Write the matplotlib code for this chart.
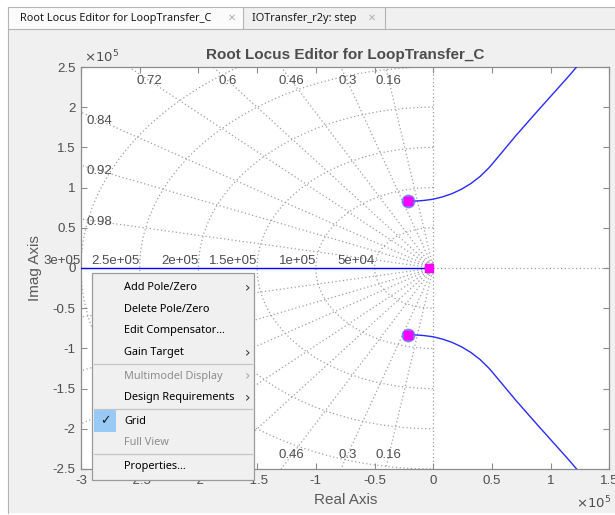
import numpy as np
import matplotlib
matplotlib.use("Agg")
import matplotlib.pyplot as plt
from matplotlib.patches import Rectangle
from matplotlib.lines import Line2D

# ---- data -------------------------------------------------------------
title = "Root Locus Editor for LoopTransfer_C"
tab_titles = ["Root Locus Editor for LoopTransfer_C", "IOTransfer_r2y: step"]

x_ticks = [-3e5, -2.5e5, -2e5, -1.5e5, -1e5, -0.5e5, 0, 0.5e5, 1e5, 1.5e5]
x_ticklabels = ["-3", "-2.5", "-2", "-1.5", "-1", "-0.5", "0", "0.5", "1", "1.5"]
y_ticks = [-2.5e5, -2e5, -1.5e5, -1e5, -0.5e5, 0, 0.5e5, 1e5, 1.5e5, 2e5, 2.5e5]
y_ticklabels = ["-2.5", "-2", "-1.5", "-1", "-0.5", "0", "0.5", "1", "1.5", "2", "2.5"]

# damping ratios and natural frequencies of the s-plane grid
zeta_values = [0.16, 0.3, 0.46, 0.6, 0.72, 0.84, 0.92, 0.98]
zeta_top_labels = [0.16, 0.3, 0.46, 0.6, 0.72]
zeta_left_labels = [0.84, 0.92, 0.98]
zeta_bottom_labels = [0.16, 0.3, 0.46, 0.6, 0.72]
wn_values = [5e4, 1e5, 1.5e5, 2e5, 2.5e5, 3e5]
wn_labels = ["5e+04", "1e+05", "1.5e+05", "2e+05", "2.5e+05", "3e+05"]
wn_small = [2.5e3, 5e3, 7.5e3]

# root locus branches
branch_up_re = [-21300, -15000, -8000, 0, 8000, 16000, 24000, 32000, 40000, 48000,
                56000, 70000, 85000, 100000, 115000, 125000]
branch_up_im = [83300, 83300, 84000, 85600, 88500, 92500, 98000, 105000, 114000, 125500,
                139500, 164000, 189000, 213500, 238000, 255000]
branch_dn_re = [-21300, -15000, -8000, 0, 8000, 16000, 24000, 32000, 40000, 48000,
                56000, 70000, 85000, 100000, 115000, 125000]
branch_dn_im = [-83300, -83300, -84000, -85600, -88500, -92500, -98000, -105000, -114000,
                -125500, -139500, -164000, -189000, -213500, -238000, -255000]
branch_real_re = [-3.2e5, -4000]
branch_real_im = [0, 0]

# closed-loop poles
pole_re = [-21300, -21300]
pole_im = [83300, -83300]
origin_pole_re = [-4000]
origin_pole_im = [0]

menu_items = [
    ("Add Pole/Zero", True, True, False),
    ("Delete Pole/Zero", True, False, False),
    ("Edit Compensator...", True, False, False),
    ("Gain Target", True, True, False),
    None,
    ("Multimodel Display", False, True, False),
    ("Design Requirements", True, True, False),
    None,
    ("Grid", True, False, True),
    ("Full View", False, False, False),
    None,
    ("Properties...", True, False, False),
]

# ---- figure -----------------------------------------------------------
W, H = 615, 515
fig = plt.figure(figsize=(W / 100, H / 100), dpi=100)
fig.patch.set_facecolor("white")

def fx(px):
    return px / W

def fy(py):
    return 1 - py / H

ui_font = ["Noto Sans", "DejaVu Sans"]
plot_font = ["Liberation Sans", "DejaVu Sans"]

# window panel and tab strip
fig.patches.append(Rectangle((fx(8), fy(513)), fx(615) - fx(8), fy(29) - fy(513),
                             transform=fig.transFigure, facecolor="#f0f0f0",
                             edgecolor="none", zorder=-3))
fig.patches.append(Rectangle((fx(8), fy(29)), fx(615) - fx(8), fy(7) - fy(29),
                             transform=fig.transFigure, facecolor="#f0f0f0",
                             edgecolor="none", zorder=-3))
fig.patches.append(Rectangle((fx(8), fy(29)), fx(243) - fx(8), fy(8) - fy(29),
                             transform=fig.transFigure, facecolor="#fbfbfb",
                             edgecolor="none", zorder=-2))
for (x0, x1, y0, y1) in [(8, 615, 7, 7), (8, 615, 29, 29), (243, 243, 8, 29),
                         (385, 385, 8, 29), (8, 8, 7, 513)]:
    fig.lines.append(Line2D([fx(x0), fx(x1)], [fy(y0), fy(y1)], transform=fig.transFigure,
                            color="#b4b4b4", lw=0.8, zorder=-1))
fig.text(fx(20), fy(18), tab_titles[0], family=ui_font, fontsize=7.9, color="#1a1a1a",
         va="center", ha="left")
fig.text(fx(232), fy(18), "\u2715", family=["DejaVu Sans"], fontsize=7, color="#b0b0b0",
         va="center", ha="center")
fig.text(fx(252), fy(18), tab_titles[1], family=ui_font, fontsize=7.9, color="#1a1a1a",
         va="center", ha="left")
fig.text(fx(372), fy(18), "\u2715", family=["DejaVu Sans"], fontsize=7, color="#b0b0b0",
         va="center", ha="center")

# ---- axes -------------------------------------------------------------
ax = fig.add_axes([fx(81), fy(469), fx(609.4) - fx(81), fy(67) - fy(469)])
ax.set_zorder(1)
ax.set_facecolor("white")
ax.set_xlim(-3e5, 1.5e5)
ax.set_ylim(-2.5e5, 2.5e5)
ax.set_xticks(x_ticks)
ax.set_xticklabels(x_ticklabels)
ax.set_yticks(y_ticks)
ax.set_yticklabels(y_ticklabels)
for sp in ax.spines.values():
    sp.set_color("#8c8c8c")
    sp.set_linewidth(0.9)
ax.tick_params(direction="in", length=4, width=0.8, color="#8c8c8c",
               labelcolor="#4d4d4d", labelsize=9.5, top=True, right=True, pad=4)
for lab in ax.get_xticklabels() + ax.get_yticklabels():
    lab.set_family(plot_font)

grid_kw = dict(color="#a0a0a0", lw=0.9, ls=(0, (1, 2)), zorder=1)
# damping lines
for z in zeta_values:
    th = np.arccos(z)
    r = 4e5
    ax.plot([0, -r * np.cos(th)], [0, r * np.sin(th)], **grid_kw)
    ax.plot([0, -r * np.cos(th)], [0, -r * np.sin(th)], **grid_kw)
# natural frequency circles
phi = np.linspace(np.pi / 2, 3 * np.pi / 2, 300)
for wn in wn_values + wn_small:
    ax.plot(wn * np.cos(phi), wn * np.sin(phi), **grid_kw)
ax.plot([0, 0], [-2.5e5, 2.5e5], **grid_kw)
ax.plot([0, 1.5e5], [0, 0], **grid_kw)

lab_kw = dict(family=plot_font, fontsize=9.5, color="#4d4d4d", ha="center", va="center",
              zorder=3)
for z in zeta_top_labels:
    th = np.arccos(z)
    y = 2.33e5
    ax.text(-y / np.tan(th), y, f"{z:g}", **lab_kw)
for z in zeta_bottom_labels:
    th = np.arccos(z)
    y = -2.33e5
    ax.text(y / np.tan(th), y, f"{z:g}", **lab_kw)
for z in zeta_left_labels:
    th = np.arccos(z)
    x = -2.84e5
    ax.text(x, -x * np.tan(th), f"{z:g}", **lab_kw)
for wn, lab in zip(wn_values, wn_labels):
    ax.text(-wn, 0.012e5, lab, family=plot_font, fontsize=9.5, color="#4d4d4d",
            ha="right", va="bottom", zorder=3, clip_on=False)

# locus branches
ax.plot(branch_real_re, branch_real_im, color="#0000ff", lw=1.0, zorder=4)
ax.plot(branch_up_re, branch_up_im, color="#2a2aff", lw=1.0, zorder=4)
ax.plot(branch_dn_re, branch_dn_im, color="#2a2aff", lw=1.0, zorder=4)
ax.plot(pole_re, pole_im, ls="none", marker="o", ms=9, mfc="#5050ff", mec="#7070ff",
        alpha=0.75, zorder=5)
ax.plot(pole_re, pole_im, ls="none", marker="s", ms=5.2, mfc="#ff00ff", mec="#ff00ff",
        zorder=6)
ax.plot(origin_pole_re, origin_pole_im, ls="none", marker="s", ms=5.2, mfc="#ff00ff",
        mec="#ff00ff", zorder=6)

ax.set_title(title, family=plot_font, fontsize=11, fontweight="bold", color="#4d4d4d",
             pad=6)
ax.set_xlabel("Real Axis", family=plot_font, fontsize=11, color="#5a5a5a", labelpad=5)
ax.set_ylabel("Imag Axis", family=plot_font, fontsize=11, color="#5a5a5a")
ax.yaxis.set_label_coords((42 - 81) / 528.4, 0.5)
fig.text(fx(84), fy(62), r"$\times10^{5}$", family=plot_font, fontsize=9.5,
         color="#4d4d4d", ha="left", va="baseline")
fig.text(fx(576), fy(508), r"$\times10^{5}$", family=plot_font, fontsize=9.5,
         color="#4d4d4d", ha="left", va="baseline")

# ---- context menu -----------------------------------------------------
mx0, mx1, my0, my1 = 92, 254, 273, 480
fig.patches.append(Rectangle((fx(mx0), fy(my1)), fx(mx1) - fx(mx0), fy(my0) - fy(my1),
                             transform=fig.transFigure, facecolor="#f0f0f0",
                             edgecolor="#9a9a9a", lw=0.9, zorder=10))
row_y = 288
for item in menu_items:
    if item is None:
        sy = row_y - 10
        fig.lines.append(Line2D([fx(94), fx(252)], [fy(sy), fy(sy)],
                                transform=fig.transFigure, color="#c4c4c4", lw=0.9,
                                zorder=11))
        row_y += 2
        continue
    text, enabled, submenu, checked = item
    col = "#000000" if enabled else "#8d8d8d"
    if checked:
        fig.patches.append(Rectangle((fx(94), fy(row_y + 11)), fx(116) - fx(94),
                                     fy(row_y - 11) - fy(row_y + 11),
                                     transform=fig.transFigure, facecolor="#99c9f5",
                                     edgecolor="none", zorder=11))
        fig.text(fx(105), fy(row_y), "\u2713", family=["DejaVu Sans"], fontsize=9,
                 color="#1a1a1a", ha="center", va="center", zorder=12)
    fig.text(fx(124), fy(row_y), text, family=ui_font, fontsize=7.9, color=col,
             ha="left", va="center", zorder=12)
    if submenu:
        fig.text(fx(248), fy(row_y), "\u203a", family=["DejaVu Sans"], fontsize=10,
                 color="#333333" if enabled else "#a8a8a8", ha="center", va="center",
                 zorder=12)
    row_y += 21.5

fig.savefig("out.png", dpi=100)
